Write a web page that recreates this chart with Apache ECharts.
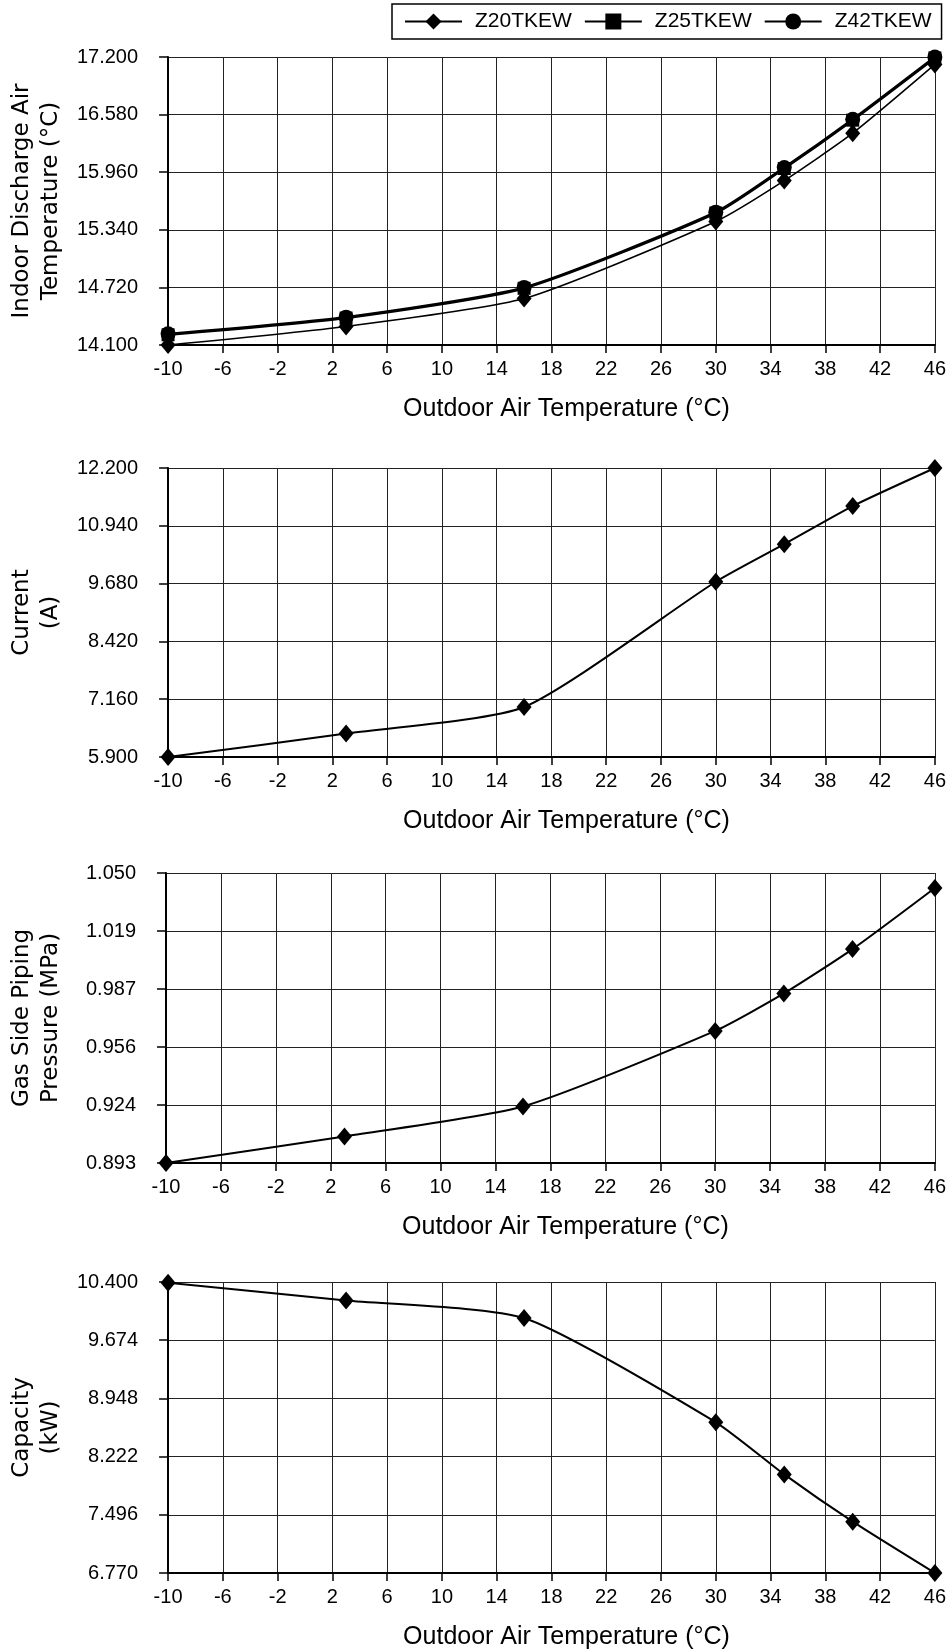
<!DOCTYPE html>
<html>
<head>
<meta charset="utf-8">
<script src="https://cdn.jsdelivr.net/npm/echarts@6/dist/echarts.min.js"></script>
<style>
html,body{margin:0;padding:0;background:#fff;}
#c{width:949px;height:1652px;}
</style>
</head>
<body>
<div id="c"></div>
<script>
// ---- data ----
const outdoorTemps = [-10, 3, 16, 30, 35, 40, 46];
const xTickLabels = ['-10','-6','-2','2','6','10','14','18','22','26','30','34','38','42','46'];
const seriesNames = ['Z20TKEW', 'Z25TKEW', 'Z42TKEW'];

const dischargeZ20 = [14.10, 14.30, 14.60, 15.43, 15.87, 16.38, 17.12];
const dischargeZ25 = [14.21, 14.39, 14.71, 15.52, 16.00, 16.52, 17.19];
const dischargeZ42 = [14.22, 14.40, 14.72, 15.53, 16.01, 16.53, 17.20];
const dischargeTicks = ['14.100','14.720','15.340','15.960','16.580','17.200'];

const currentZ20 = [5.90, 6.41, 6.99, 9.72, 10.54, 11.37, 12.20];
const currentTicks = ['5.900','7.160','8.420','9.680','10.940','12.200'];

const pressureZ20 = [0.893, 0.9074, 0.9236, 0.9645, 0.9848, 1.0088, 1.0419];
const pressureTicks = ['0.893','0.924','0.956','0.987','1.019','1.050'];

const capacityZ20 = [10.39, 10.17, 9.95, 8.65, 8.00, 7.41, 6.77];
const capacityTicks = ['6.770','7.496','8.222','8.948','9.674','10.400'];

const xTitle = 'Outdoor Air Temperature (°C)';

// ---- layout / styling ----
const panels = [
  { yName: 'Indoor Discharge Air\nTemperature (°C)', ticks: dischargeTicks, top: 57, height: 288,
    series: [ { name: seriesNames[0], values: dischargeZ20, symbol: 'diamond', width: 1.6 },
              { name: seriesNames[1], values: dischargeZ25, symbol: 'rect', width: 2.4 },
              { name: seriesNames[2], values: dischargeZ42, symbol: 'circle', width: 2.4 } ] },
  { yName: 'Current\n(A)', ticks: currentTicks, top: 468, height: 289,
    series: [ { name: seriesNames[0], values: currentZ20, symbol: 'diamond', width: 2 } ] },
  { yName: 'Gas Side Piping\nPressure (MPa)', ticks: pressureTicks, top: 873, height: 290,
    series: [ { name: seriesNames[0], values: pressureZ20, symbol: 'diamond', width: 2 } ] },
  { yName: 'Capacity\n(kW)', ticks: capacityTicks, top: 1282, height: 291,
    series: [ { name: seriesNames[0], values: capacityZ20, symbol: 'diamond', width: 2 } ] }
];

const symSize = { diamond: [15, 18], rect: 13, circle: 15 };
const FONT = 'Liberation Sans, Arial, sans-serif';

const grids = [], xAxes = [], yAxes = [], series = [];
panels.forEach((p, i) => {
  grids.push({ left: 165.5, width: 770, top: p.top, height: p.height, containLabel: false });
  const xmin = Number(xTickLabels[0]), xmax = Number(xTickLabels[xTickLabels.length - 1]);
  xAxes.push({
    gridIndex: i, type: 'value', min: xmin, max: xmax,
    interval: Number(xTickLabels[1]) - Number(xTickLabels[0]),
    axisLine: { show: true, onZero: false, lineStyle: { color: '#000', width: 2 } },
    axisTick: { show: true, length: 8, lineStyle: { color: '#000', width: 1.5 } },
    axisLabel: { color: '#000', fontSize: 20, fontFamily: FONT, margin: 14,
      formatter: (v, k) => (xTickLabels[k] !== undefined ? xTickLabels[k] : String(v)) },
    splitLine: { show: true, lineStyle: { color: '#222', width: 1 } },
    name: xTitle, nameLocation: 'middle', nameGap: 52,
    nameTextStyle: { color: '#000', fontSize: 25, fontFamily: FONT, padding: [0, 0, 0, 30] }
  });
  const ymin = Number(p.ticks[0]), ymax = Number(p.ticks[p.ticks.length - 1]);
  const yint = Number(((ymax - ymin) / (p.ticks.length - 1)).toFixed(6));
  yAxes.push({
    gridIndex: i, type: 'value', min: ymin, max: ymax, interval: yint,
    axisLine: { show: true, onZero: false, lineStyle: { color: '#000', width: 2 } },
    axisTick: { show: true, length: 9, lineStyle: { color: '#000', width: 1.5 } },
    axisLabel: { color: '#000', fontSize: 20, fontFamily: FONT, margin: 30, padding: [7, 0, 0, 0],
      formatter: (v, k) => (p.ticks[k] !== undefined ? p.ticks[k] : v.toFixed(3)) },
    splitLine: { show: true, lineStyle: { color: '#222', width: 1 } },
    name: p.yName, nameLocation: 'middle', nameRotate: 90, nameGap: 100,
    nameTextStyle: { color: '#000', fontSize: 23, lineHeight: 29, fontFamily: 'DejaVu Sans, sans-serif', align: 'center' }
  });
  p.series.forEach((s, k) => {
    series.push({
      type: 'line', name: s.name, xAxisIndex: i, yAxisIndex: i,
      data: outdoorTemps.map((x, j) => [x, s.values[j]]),
      smooth: 0.2,
      symbol: s.symbol, symbolSize: symSize[s.symbol], showSymbol: true,
      lineStyle: { color: '#000', width: s.width },
      itemStyle: { color: '#000' },
      z: 3 + k, clip: false
    });
  });
});

const chart = echarts.init(document.getElementById('c'), null, { renderer: 'canvas' });
chart.setOption({
  animation: false,
  backgroundColor: '#fff',
  textStyle: { fontFamily: FONT },
  legend: {
    data: seriesNames, left: 392, top: 4, orient: 'horizontal',
    itemWidth: 57, itemHeight: 20, itemGap: 12,
    padding: [7, 10, 7, 12],
    borderColor: '#000', borderWidth: 1.5,
    textStyle: { fontSize: 21, fontFamily: FONT, color: '#000', padding: [0, 0, 0, 8] },
    selectedMode: false
  },
  grid: grids, xAxis: xAxes, yAxis: yAxes, series: series
});
</script>
</body>
</html>
